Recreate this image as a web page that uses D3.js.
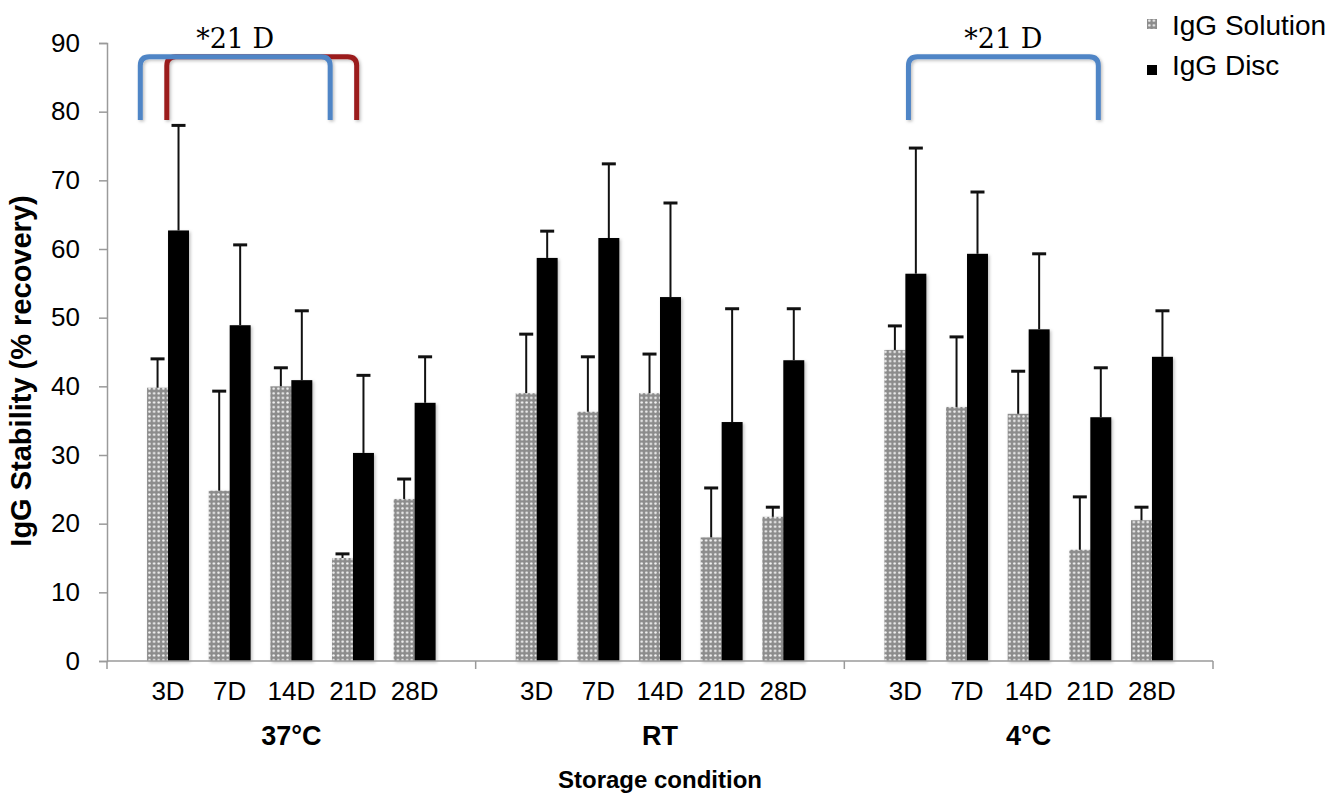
<!DOCTYPE html>
<html>
<head>
<meta charset="utf-8">
<script src="https://cdnjs.cloudflare.com/ajax/libs/d3/7.8.5/d3.min.js"></script>
<style>
  body { margin: 0; background: #fff; }
  svg text { font-family: "Liberation Sans", Arial, sans-serif; fill: #000; }
</style>
</head>
<body>
<svg id="chart" width="1338" height="798"></svg>
<script>
// data
var groups = ["37\u00b0C", "RT", "4\u00b0C"];
var days = ["3D", "7D", "14D", "21D", "28D"];
var series = ["IgG Solution", "IgG Disc"];

var solution = [
  [39.8, 24.8, 40.0, 15.0, 23.6],   // 37°C
  [39.0, 36.3, 39.0, 18.0, 21.0],   // RT
  [45.3, 37.0, 36.0, 16.2, 20.5]    // 4°C
];
var solutionErr = [
  [4.2, 14.5, 2.7, 0.6, 2.9],
  [8.6, 8.0, 5.7, 7.2, 1.4],
  [3.5, 10.2, 6.2, 7.7, 1.9]
];
var disc = [
  [62.7, 48.9, 40.9, 30.3, 37.6],
  [58.7, 61.6, 53.0, 34.8, 43.8],
  [56.4, 59.3, 48.3, 35.5, 44.3]
];
var discErr = [
  [15.3, 11.7, 10.1, 11.3, 6.7],
  [3.9, 10.8, 13.7, 16.5, 7.5],
  [18.3, 9.0, 11.0, 7.2, 6.7]
];
var yTicks = [0, 10, 20, 30, 40, 50, 60, 70, 80, 90];

// significance brackets: group, from day, to day, nudge (in steps), colour
var brackets = [
  { group: "37\u00b0C", from: "3D", to: "21D", dx0: -0.02, dx1: 0.06, color: "#9b1c1f", label: null },
  { group: "37\u00b0C", from: "3D", to: "21D", dx0: -0.45, dx1: -0.37, color: "#4f85c6", label: "*21 D" },
  { group: "4\u00b0C", from: "3D", to: "21D", dx0: 0.05, dx1: 0.13, color: "#4f85c6", label: "*21 D" }
];

var svg = d3.select("#chart");
var plotL = 107, plotR = 1213, plotT = 43, plotB = 661;

var x0 = d3.scaleBand().domain(groups).range([plotL, plotR]).padding(0);
var x1 = d3.scaleBand().domain(days).range([0, x0.bandwidth()])
  .paddingInner(0.32).paddingOuter(0.65);
var xs = d3.scaleBand().domain(series).range([0, x1.bandwidth()]);
var y = d3.scaleLinear().domain([0, 90]).range([plotB, plotT]);

var defs = svg.append("defs");
var pat = defs.append("pattern").attr("id", "dots")
  .attr("patternUnits", "userSpaceOnUse").attr("width", 4.6).attr("height", 4.6);
pat.append("rect").attr("width", 4.6).attr("height", 4.6).attr("fill", "#8c8c8c");
pat.append("circle").attr("cx", 2.3).attr("cy", 2.3).attr("r", 1.25).attr("fill", "#f4f4f4");

var shadow = defs.append("filter").attr("id", "shadow")
  .attr("x", "-20%").attr("y", "-20%").attr("width", "160%").attr("height", "160%");
shadow.append("feDropShadow").attr("dx", 1.5).attr("dy", 1.5).attr("stdDeviation", 1.5)
  .attr("flood-color", "#000").attr("flood-opacity", 0.25);

// rows for drawing
var rows = [];
groups.forEach(function(g, gi) {
  days.forEach(function(d, di) {
    rows.push({ group: g, day: d, series: series[0], value: solution[gi][di], err: solutionErr[gi][di] });
    rows.push({ group: g, day: d, series: series[1], value: disc[gi][di], err: discErr[gi][di] });
  });
});
function barX(r) { return x0(r.group) + x1(r.day) + xs(r.series); }

// y axis
var yAxis = d3.axisLeft(y).tickValues(yTicks).tickSize(8).tickPadding(19);
var yg = svg.append("g").attr("transform", "translate(" + plotL + ",0)").call(yAxis);
yg.selectAll("path, line").attr("stroke", "#9a9a9a").attr("stroke-width", 1.5);
yg.selectAll("text").attr("font-size", 26).attr("font-family", "Liberation Sans, Arial, sans-serif");

// bars
svg.append("g").selectAll("rect").data(rows).enter().append("rect")
  .attr("x", barX)
  .attr("y", function(r) { return y(r.value); })
  .attr("width", xs.bandwidth())
  .attr("height", function(r) { return plotB - y(r.value); })
  .attr("fill", function(r) { return r.series === series[0] ? "url(#dots)" : "#000"; })
  .attr("filter", "url(#shadow)");

// error bars (plus only)
var eb = svg.append("g").attr("stroke", "#111");
rows.forEach(function(r) {
  var cx = barX(r) + xs.bandwidth() / 2;
  eb.append("line").attr("x1", cx).attr("x2", cx)
    .attr("y1", y(r.value)).attr("y2", y(r.value + r.err)).attr("stroke-width", 2);
  eb.append("line").attr("x1", cx - 7).attr("x2", cx + 7)
    .attr("y1", y(r.value + r.err)).attr("y2", y(r.value + r.err)).attr("stroke-width", 3);
});

// x axis
svg.append("line").attr("x1", plotL).attr("x2", plotR).attr("y1", plotB).attr("y2", plotB)
  .attr("stroke", "#9a9a9a").attr("stroke-width", 1.5);
var bounds = groups.map(function(g) { return x0(g); }).concat([plotR]);
svg.append("g").selectAll("line").data(bounds).enter().append("line")
  .attr("x1", function(d) { return d; }).attr("x2", function(d) { return d; })
  .attr("y1", plotB).attr("y2", plotB + 8)
  .attr("stroke", "#9a9a9a").attr("stroke-width", 1.5);

groups.forEach(function(g) {
  svg.append("g").selectAll("text").data(days).enter().append("text")
    .attr("x", function(d) { return x0(g) + x1(d) + x1.bandwidth() / 2; })
    .attr("y", 700)
    .attr("text-anchor", "middle").attr("font-size", 26)
    .text(function(d) { return d; });
});
svg.append("g").selectAll("text").data(groups).enter().append("text")
  .attr("x", function(g) { return x0(g) + x0.bandwidth() / 2; })
  .attr("y", 745)
  .attr("text-anchor", "middle").attr("font-size", 27).attr("font-weight", "bold")
  .text(function(g) { return g; });

svg.append("text").attr("x", (plotL + plotR) / 2).attr("y", 788)
  .attr("text-anchor", "middle").attr("font-size", 24).attr("font-weight", "bold")
  .text("Storage condition");

svg.append("text").attr("transform", "translate(31," + 371 + ") rotate(-90)")
  .attr("text-anchor", "middle").attr("font-size", 29).attr("font-weight", "bold")
  .text("IgG Stability (% recovery)");

// brackets
var bg = svg.append("g").attr("fill", "none").attr("filter", "url(#shadow)");
brackets.forEach(function(b) {
  var step = x1.step();
  var xa = x0(b.group) + x1(b.from) + x1.bandwidth() / 2 + b.dx0 * step;
  var xb = x0(b.group) + x1(b.to) + x1.bandwidth() / 2 + b.dx1 * step;
  var yt = y(88.0), yb = y(78.8), rr = 9;
  var p = d3.path();
  p.moveTo(xa, yb);
  p.lineTo(xa, yt + rr);
  p.quadraticCurveTo(xa, yt, xa + rr, yt);
  p.lineTo(xb - rr, yt);
  p.quadraticCurveTo(xb, yt, xb, yt + rr);
  p.lineTo(xb, yb);
  bg.append("path").attr("d", p.toString()).attr("stroke", b.color).attr("stroke-width", 5);
  if (b.label) {
    svg.append("text").attr("x", (xa + xb) / 2).attr("y", y(89.3))
      .attr("text-anchor", "middle").attr("font-size", 27)
      .style("font-family", "'DejaVu Serif', 'Liberation Serif', serif")
      .text(b.label);
  }
});

// legend
var lg = svg.append("g").attr("transform", "translate(1147,0)");
series.forEach(function(s, i) {
  lg.append("rect").attr("x", 0).attr("y", 19 + i * 46).attr("width", 10).attr("height", 10)
    .attr("fill", i === 0 ? "url(#dots)" : "#000");
  lg.append("text").attr("x", 25).attr("y", 35 + i * 40).attr("font-size", 28).text(s);
});
</script>
</body>
</html>
